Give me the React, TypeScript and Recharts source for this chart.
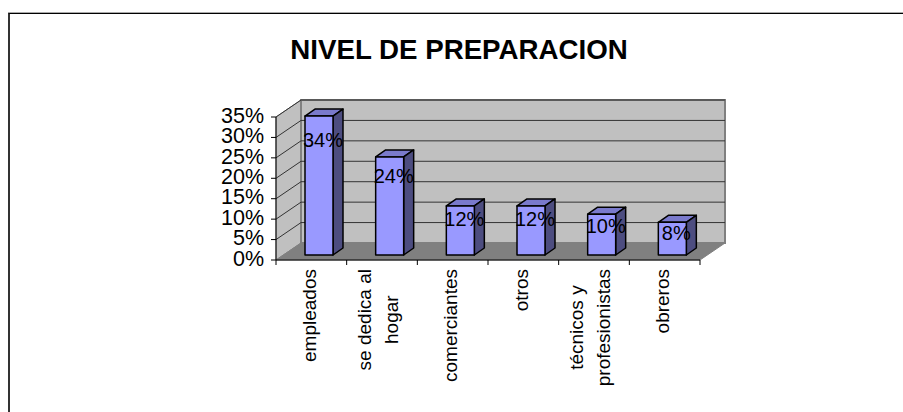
import React from "react";
import { BarChart, Bar, XAxis, YAxis, CartesianGrid, ReferenceArea, LabelList } from "recharts";

const categories = ["empleados", "se dedica al|hogar", "comerciantes", "otros", "técnicos y|profesionistas", "obreros"];
const shares = [34, 24, 12, 12, 10, 8];
const yTicks = [0, 5, 10, 15, 20, 25, 30, 35];
const titleText = "NIVEL DE PREPARACION";

const data = categories.map((name, i) => ({ name, value: shares[i] }));

const FONT = "'Liberation Sans', Arial, sans-serif";
const DX = 25;
const DY = -17;
const PLOT_W = 424;
const BAND = PLOT_W / categories.length;

function measure(text: string, size: number) {
  const c = document.createElement("canvas").getContext("2d")!;
  c.font = `${size}px 'Liberation Sans'`;
  return c.measureText(text).width;
}

const Walls = (p: any) => {
  const { x, y, width, height } = p;
  const b = y + height;
  return (
    <g>
      <polygon points={`${x},${y} ${x + DX},${y + DY} ${x + DX},${b + DY} ${x},${b}`} fill="#c0c0c0" stroke="#808080" strokeWidth={1} />
      <rect x={x + DX} y={y + DY} width={width} height={height} fill="#c0c0c0" stroke="#808080" strokeWidth={2} />
      <polygon points={`${x},${b} ${x + DX},${b + DY} ${x + width + DX},${b + DY} ${x + width},${b}`} fill="#808080" stroke="#808080" />
    </g>
  );
};

const GridLine = (p: any) => {
  const { x1, y1, x2, index } = p;
  if (y1 >= 259) return <g key={index} />;
  return (
    <polyline
      key={index}
      points={`${x1},${y1} ${x1 + DX},${y1 + DY} ${x2 + DX},${y1 + DY}`}
      fill="none"
      stroke="#333333"
      strokeWidth={1}
    />
  );
};

const Bar3D = (p: any) => {
  const { x, y, width, height } = p;
  const sx = 8;
  const sy = -5;
  const dx = 10;
  const dy = -7;
  const l = x + sx;
  const r = l + width;
  const t = y + sy;
  const b = y + height + sy;
  return (
    <g stroke="#000" strokeWidth={1.5} strokeLinejoin="round">
      <polygon points={`${l},${t} ${l + dx},${t + dy} ${r + dx},${t + dy} ${r},${t}`} fill="#7a7acc" />
      <polygon points={`${r},${t} ${r + dx},${t + dy} ${r + dx},${b + dy} ${r},${b}`} fill="#4d4d80" />
      <rect x={l} y={t} width={width} height={height} fill="#9999ff" />
    </g>
  );
};

const BarLabel = (p: any) => {
  const { x, y, width, height, value } = p;
  return (
    <text
      x={x + width / 2 + 12}
      y={y + 2 + height * 0.12}
      dy="0.36em"
      textAnchor="middle"
      fontFamily={FONT}
      fontSize={20}
      fill="#000"
    >
      {value}%
    </text>
  );
};

const YTick = (p: any) => (
  <text x={p.x} y={p.y - 2} dy="0.36em" textAnchor="end" fontFamily={FONT} fontSize={21.5} fill="#000">
    {p.payload.value}%
  </text>
);

const XTick = (p: any) => {
  const { x, y, index } = p;
  const lines: string[] = String(p.payload.value).split("|");
  const size = 19;
  const longest = Math.max(...lines.map((l) => measure(l, size)));
  const cy = y + 9 + longest / 2;
  const gap = 27;
  const last = index === categories.length - 1;
  return (
    <g>
      <line x1={x - BAND / 2} y1={y} x2={x - BAND / 2} y2={y + 5} stroke="#000" />
      {last && <line x1={x + BAND / 2} y1={y} x2={x + BAND / 2} y2={y + 5} stroke="#000" />}
      {lines.map((l, i) => {
        const cx = x - 2.5 - 1.5 * (lines.length - 1) + (i - (lines.length - 1) / 2) * gap;
        return (
          <text
            key={l}
            transform={`translate(${cx},${cy}) rotate(-90)`}
            dy="0.36em"
            textAnchor="middle"
            fontFamily={FONT}
            fontSize={size}
            fill="#000"
          >
            {l}
          </text>
        );
      })}
    </g>
  );
};

export default function App() {
  return (
    <div style={{ position: "absolute", left: 0, top: 0, width: 903, height: 412, background: "#fff", overflow: "hidden" }}>
      <div style={{ position: "absolute", left: 8, top: 13, right: 0, bottom: 0, borderLeft: "2px solid #333", borderTop: "1px solid #000", boxShadow: "0 -1px 0 #aaa" }} />
      <div style={{ position: "absolute", left: 0, top: 0 }}>
        <BarChart width={903} height={412} data={data} margin={{ top: 117, right: 203, bottom: 0, left: 0 }} barSize={28}>
          <text x={459} y={59} textAnchor="middle" fontFamily={FONT} fontWeight="bold" fontSize={27.7} fill="#000">
            {titleText}
          </text>
          <ReferenceArea x1={categories[0]} x2={categories[5]} y1={0} y2={35} shape={Walls} ifOverflow="visible" zIndex={-200} />
          <CartesianGrid vertical={false} horizontal={GridLine} zIndex={-100} />
          <XAxis dataKey="name" height={152} interval={0} tickLine={false} tickSize={0} tickMargin={0} axisLine={{ stroke: "#000" }} tick={XTick} />
          <YAxis
            domain={[0, 35]}
            ticks={yTicks}
            width={276}
            tickSize={5}
            tickMargin={7}
            axisLine={{ stroke: "#000" }}
            tickLine={{ stroke: "#000" }}
            tick={YTick}
            interval={0}
          />
          <Bar dataKey="value" isAnimationActive={false} shape={Bar3D}>
            <LabelList dataKey="value" content={BarLabel} />
          </Bar>
        </BarChart>
      </div>
    </div>
  );
}
